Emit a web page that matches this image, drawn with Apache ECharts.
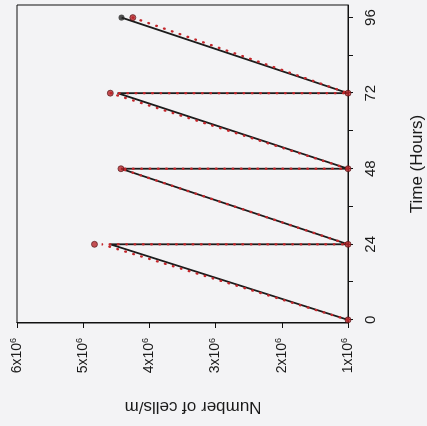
<!DOCTYPE html>
<html>
<head>
<meta charset="utf-8">
<script src="https://cdn.jsdelivr.net/npm/echarts@6/dist/echarts.min.js"></script>
<style>
  html, body { margin: 0; padding: 0; width: 427px; height: 426px; overflow: hidden; background: #f3f3f5; }
  /* chart is drawn upright then turned 90deg to the left, like the scan */
  #chart {
    position: absolute; left: 0; top: 0;
    width: 426px; height: 427px;
    transform-origin: 0 0;
    transform: translateY(426px) rotate(-90deg);
  }
</style>
</head>
<body>
<div id="chart"></div>
<script>
// 时间点 (小时)
var modelTimes = [0, 24, 24, 48, 48, 72, 72, 96];
// 黑色实线模型
var solidValues = [1.0e6, 4.59e6, 1.0e6, 4.43e6, 1.0e6, 4.48e6, 1.0e6, 4.42e6];
// 红色点线模型
var dottedValues = [1.0e6, 4.72e6, 1.0e6, 4.43e6, 1.0e6, 4.59e6, 1.0e6, 4.25e6];
// 红色数据点
var pointTimes = [0, 24, 24, 48, 48, 72, 72, 96];
var pointValues = [1.0e6, 4.83e6, 1.0e6, 4.43e6, 1.0e6, 4.59e6, 1.0e6, 4.25e6];
// 黑色终点
var endTimes = [96];
var endValues = [4.42e6];
// 坐标轴刻度
var timeTicks = [0, 12, 24, 36, 48, 60, 72, 84, 96];
var timeLabels = [0, 24, 48, 72, 96];

function pairs(xs, ys) {
  var out = [];
  for (var i = 0; i < xs.length; i++) {
    out.push([xs[i], ys[i]]);
  }
  return out;
}

var option = {
  backgroundColor: '#f3f3f5',
  animation: false,
  grid: {
    left: 103,
    right: 5,
    top: 17,
    bottom: 79,
    outerBoundsMode: 'none',
    show: true,
    borderColor: '#111',
    borderWidth: 1,
  },
  xAxis: {
    type: 'value',
    min: -1,
    max: 100,
    name: 'Time (Hours)',
    nameLocation: 'middle',
    nameGap: 61,
    nameTextStyle: { color: '#1a1a1a', fontSize: 17, fontFamily: 'Liberation Sans' },
    splitLine: { show: false },
    axisLine: { onZero: false, lineStyle: { color: '#111', width: 1 } },
    axisTick: { show: true, length: 5, customValues: timeTicks, lineStyle: { color: '#111' } },
    axisLabel: {
      customValues: timeLabels,
      margin: 15,
      color: '#1a1a1a',
      fontSize: 15,
      fontFamily: 'Liberation Sans',
    },
  },
  yAxis: {
    type: 'value',
    min: 1e6,
    max: 6e6,
    interval: 1e6,
    name: 'Number of cells/m',
    nameLocation: 'middle',
    nameGap: 75,
    nameRotate: 90,
    nameTextStyle: {
      color: '#1a1a1a',
      fontSize: 17,
      fontFamily: 'Liberation Sans',
      padding: [0, 21, 0, 0],
    },
    splitLine: { show: false },
    axisLine: { show: true, onZero: false, lineStyle: { color: '#111', width: 1 } },
    axisTick: { show: true, length: 5, lineStyle: { color: '#111' } },
    axisLabel: {
      margin: 15,
      color: '#1a1a1a',
      fontFamily: 'Liberation Sans',
      formatter: function(v) {
        return '{b|' + Math.round(v / 1e6) + 'x10}{s|6}';
      },
      rich: {
        b: { fontSize: 14, color: '#1a1a1a', fontFamily: 'Liberation Sans' },
        s: { fontSize: 9, color: '#1a1a1a', fontFamily: 'Liberation Sans', padding: [0, 0, 7, 0] },
      },
    },
  },
  series: [
    {
      name: 'solid',
      type: 'line',
      data: pairs(modelTimes, solidValues),
      showSymbol: false,
      lineStyle: { color: '#1c1c1c', width: 1.8 },
      z: 2,
    },
    {
      name: 'dotted',
      type: 'line',
      data: pairs(modelTimes, dottedValues),
      showSymbol: false,
      lineStyle: { color: '#c3262b', width: 2.4, type: [0.5, 7.8], cap: 'round' },
      z: 3,
    },
    {
      name: 'points',
      type: 'scatter',
      data: pairs(pointTimes, pointValues),
      symbolSize: 6,
      itemStyle: { color: '#b8252a', borderColor: '#4a1012', borderWidth: 0.8 },
      z: 4,
    },
    {
      name: 'end',
      type: 'scatter',
      data: pairs(endTimes, endValues),
      symbolSize: 6,
      itemStyle: { color: '#262626' },
      z: 5,
    },
  ],
};

var myChart = echarts.init(document.getElementById('chart'));
myChart.setOption(option);
</script>
</body>
</html>
